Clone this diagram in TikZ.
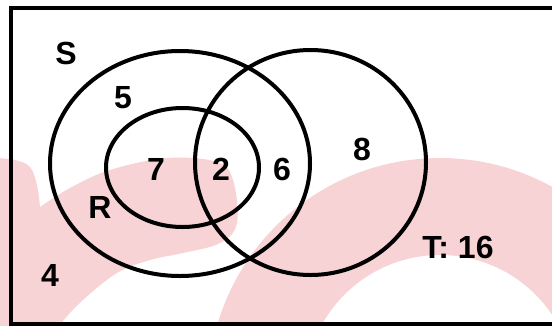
\documentclass[tikz,border=0pt]{standalone}
\usepackage{fontspec}
\setmainfont{Liberation Sans}
\definecolor{markpink}{RGB}{248,211,213}
\tikzset{every picture/.style={line width=0.75pt}}
\tikzset{venn label/.style={inner sep=0.75pt, font=\fontsize{24}{29}\selectfont\bfseries}}

\begin{document}
\begin{tikzpicture}[x=0.75pt,y=0.75pt,yscale=-1,xscale=1]
\path[use as bounding box] (0,0) rectangle (552,325);
\clip (0,0) rectangle (552,325);

%Shape: Ring [id:dp3401982615527710] 
\fill [markpink, even odd rule] (440,390) circle (232) (440,390) circle (135) ;
%Shape: Blob [id:dp7718220453196032] 
\fill [markpink] (-5,340) -- (-5,158)
  -- plot [smooth, tension=0.6] coordinates {(-5,158) (15,160) (30,167) (37,185) (40,207)}
  -- plot [smooth, tension=0.6] coordinates {(40,207) (70,188) (110,170) (167,158) (217,162) (233,180) (237,223) (220,243) (183,253) (150,260) (117,273) (83,300) (60,325) (55,340)}
  -- cycle ;

%Shape: Rectangle [id:dp2290431857106514] 
\draw  [line width=3]  (11,8) -- (580,8) -- (580,324) -- (11,324) -- cycle ;

%Shape: Ellipse [id:dp6152308874410213] 
\draw  [line width=3]  (180,163.5) ellipse [x radius=130, y radius=112.5] ;
%Shape: Ellipse [id:dp9043127751182246] 
\draw  [line width=3]  (182.5,167.5) ellipse [x radius=76.5, y radius=59.5] ;
%Shape: Ellipse [id:dp4586016622093871] 
\draw  [line width=3]  (310.5,162.5) ellipse [x radius=115.5, y radius=112.5] ;

% Text Node
\draw (66,53) node (lblS) [venn label] {S};
% Text Node
\draw (100,207) node (lblR) [venn label] {R};
% Text Node
\draw (458,247) node (lblT) [venn label] {T: 16};
% Text Node
\draw (123,98) node (numS) [venn label] {5};
% Text Node
\draw (156,169) node (numR) [venn label] {7};
% Text Node
\draw (221,169) node (numRT) [venn label] {2};
% Text Node
\draw (282,169) node (numST) [venn label] {6};
% Text Node
\draw (362,149) node (numT) [venn label] {8};
% Text Node
\draw (50,275) node (numOut) [venn label] {4};

\end{tikzpicture}
\end{document}
